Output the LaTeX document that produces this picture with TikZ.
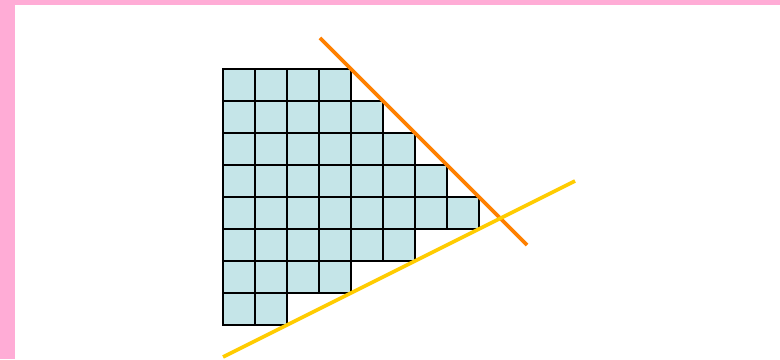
\documentclass[tikz,border=0pt]{standalone}
\usepackage{tikz}

\definecolor{cellblue}{RGB}{197,229,232}
\definecolor{framepink}{RGB}{255,172,214}
\definecolor{lineorange}{RGB}{255,128,0}
\definecolor{lineyellow}{RGB}{255,204,0}

\tikzset{
  cell/.style={draw=black, fill=cellblue, line width=1.1pt},
  bound/.style={line width=3.2pt}
}

\begin{document}
\begin{tikzpicture}
% 背景与边框
\useasboundingbox (-6.96875,-1.0625) rectangle (17.40625,10.15625);
\fill[white] (-6.96875,-1.0625) rectangle (17.40625,10.15625);
\fill[framepink] (-6.96875,-1.0625) rectangle (-6.5,10.15625);
\fill[framepink] (-6.96875,10) rectangle (17.40625,10.15625);

% 格子 (每行的方格数, 自下而上)
\foreach \len [count=\r from 0] in {2,4,6,8,7,6,5,4}
    \foreach \c in {1,...,\len}
        \draw[cell] (\c-1,\r) rectangle ++(1,1);

% 两条直线的端点
\coordinate (P1) at (3.03125,8.96875);
\coordinate (P2) at (9.5,2.5);
\coordinate (Q1) at (0,-1);
\coordinate (Q2) at (11,4.5);

% 绘制直线
\draw[bound, lineorange] (P1) -- (P2);
\draw[bound, lineyellow] (Q1) -- (Q2);
\end{tikzpicture}
\end{document}
